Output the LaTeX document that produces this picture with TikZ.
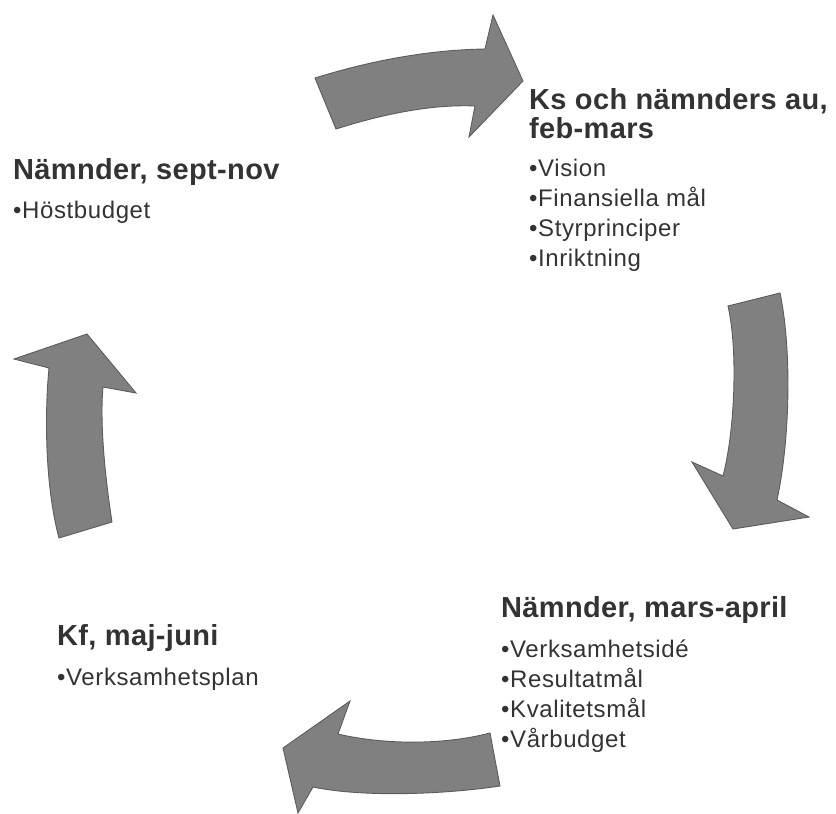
\documentclass[tikz,border=0pt]{standalone}
\usepackage{fontspec}
\setmainfont{Liberation Sans}
\newfontfamily\headfont[LetterSpace=1.2]{Liberation Sans}
\newfontfamily\itemfont[LetterSpace=2.5]{Liberation Sans}
\definecolor{txt}{HTML}{333333}
\definecolor{arrowfill}{HTML}{808080}
\definecolor{arrowedge}{HTML}{5C5C5C}
\begin{document}
\begin{tikzpicture}[x=1pt,y=-1pt,
  cyclearrow/.style={fill=arrowfill,draw=arrowedge,line width=0.9pt,line join=miter},
  heading/.style={anchor=base west,inner sep=0pt,text=txt,align=left,font=\fontsize{29}{29}\headfont\bfseries},
  items/.style={anchor=base west,inner sep=0pt,text=txt,align=left,font=\fontsize{24}{30}\itemfont}]
\useasboundingbox (0,0) rectangle (836,814);

% top arrow (towards the right)
\path[cyclearrow] (315,78) .. controls (360,64) and (420,50) .. (485,49)
  -- (493,15) -- (523,81) -- (469,137) -- (475,106)
  .. controls (430,104) and (380,115) .. (336,129) -- cycle;
% right arrow (downwards)
\path[cyclearrow] (728,306) -- (780,293) .. controls (792,350) and (790,440) .. (777,500)
  -- (809,517) -- (733,529) -- (692,462) -- (723,476)
  .. controls (735,430) and (738,350) .. (728,306) -- cycle;
% bottom arrow (towards the left)
\path[cyclearrow] (490,733) -- (500,786) .. controls (440,795) and (360,797) .. (313,787)
  -- (298,813) -- (283,748) -- (350,701) -- (338,734)
  .. controls (380,744) and (440,746) .. (490,733) -- cycle;
% left arrow (upwards)
\path[cyclearrow] (59,538) -- (112,522) .. controls (104,470) and (100,420) .. (103,387)
  -- (136,393) -- (87,334) -- (14,359) -- (49,368)
  .. controls (44,420) and (46,490) .. (59,538) -- cycle;

% texts (multi-line nodes are anchored at the baseline of their last line)
\node[heading] (ks) at (529,138) {Ks och nämnders au,\\feb-mars};
\node[items] (ksitems) at (529,266) {•Vision\\•Finansiella mål\\•Styrprinciper\\•Inriktning};

\node[heading] (sept) at (13,179) {Nämnder, sept-nov};
\node[items] (septitems) at (13,218) {•Höstbudget};

\node[heading] (mars) at (501,617) {Nämnder, mars-april};
\node[items] (marsitems) at (501,747) {•Verksamhetsidé\\•Resultatmål\\•Kvalitetsmål\\•Vårbudget};

\node[heading] (kf) at (57,645) {Kf, maj-juni};
\node[items] (kfitems) at (57,685) {•Verksamhetsplan};
\end{tikzpicture}
\end{document}
